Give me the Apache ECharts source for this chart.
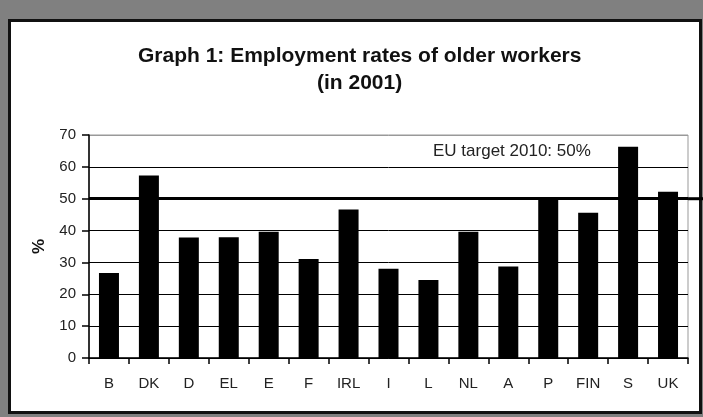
<!DOCTYPE html>
<html>
<head>
<meta charset="utf-8">
<script src="https://cdn.jsdelivr.net/npm/echarts@6/dist/echarts.min.js"></script>
<style>
  html, body { margin: 0; padding: 0; background: #808080; }
  #chart { width: 703px; height: 417px; }
</style>
</head>
<body>
<div id="chart"></div>
<script>
// data
var countries = ['B', 'DK', 'D', 'EL', 'E', 'F', 'IRL', 'I', 'L', 'NL', 'A', 'P', 'FIN', 'S', 'UK']
var rates = [26.7, 57.3, 37.8, 37.9, 39.6, 31.1, 46.6, 28.0, 24.5, 39.6, 28.7, 50.3, 45.6, 66.3, 52.2]
var yTicks = [0, 10, 20, 30, 40, 50, 60, 70]
var target = 50

var chart = echarts.init(document.getElementById('chart'))
var font = '"Liberation Sans", Arial, sans-serif'

var option = {
  backgroundColor: '#808080',
  animation: false,
  textStyle: { fontFamily: font },
  title: [
    {
      text: 'Graph 1: Employment rates of older workers',
      left: 133, top: 41,
      textStyle: { fontFamily: font, fontWeight: 'bold', fontSize: 21, color: '#111' }
    },
    {
      text: '(in 2001)',
      left: 312, top: 68,
      textStyle: { fontFamily: font, fontWeight: 'bold', fontSize: 21, color: '#111' }
    }
  ],
  grid: {
    left: 89, right: 15, top: 135, bottom: 59,
    show: true, borderColor: '#999', borderWidth: 1, backgroundColor: 'transparent'
  },
  xAxis: {
    type: 'category',
    data: countries,
    axisLine: { lineStyle: { color: '#000', width: 1.5 } },
    axisTick: { show: true, length: 6, alignWithLabel: false, lineStyle: { color: '#000', width: 1.5 } },
    axisLabel: { color: '#222', fontSize: 15, margin: 18 }
  },
  yAxis: {
    type: 'value',
    min: yTicks[0], max: yTicks[yTicks.length - 1], interval: 10,
    name: '%',
    nameLocation: 'middle',
    nameGap: 41,
    nameRotate: 90,
    nameTextStyle: { fontSize: 17, fontWeight: 'bold', color: '#111' },
    axisLine: { show: true, lineStyle: { color: '#000', width: 1.5 } },
    axisTick: { show: true, length: 7, lineStyle: { color: '#000', width: 1.5 } },
    axisLabel: { color: '#222', fontSize: 15, margin: 13 },
    splitLine: {
      show: true,
      lineStyle: { color: ['#000', '#000', '#000', '#000', '#000', '#000', '#000', '#999'], width: 1 }
    }
  },
  series: [{
    type: 'bar',
    data: rates,
    barWidth: 20,
    itemStyle: { color: '#000' },
    markLine: {
      symbol: 'none',
      silent: true,
      label: { show: false },
      lineStyle: { color: '#000', width: 3, type: 'solid' },
      data: [{ yAxis: target }]
    }
  }]
}

chart.setOption(option)

// white panel, target line extension and the target caption
function drawExtras () {
  var y50 = chart.convertToPixel({ yAxisIndex: 0 }, target)
  var xEnd = chart.convertToPixel({ xAxisIndex: 0 }, countries.length - 1) + 20
  var yCap = chart.convertToPixel({ yAxisIndex: 0 }, 64.3)
  chart.setOption({
    graphic: [
      {
        type: 'rect', z: -10, silent: true,
        shape: { x: 9.5, y: 20.5, width: 691, height: 392 },
        style: { fill: '#fff', stroke: '#111', lineWidth: 3 }
      },
      {
        type: 'line', z: 10, silent: true,
        shape: { x1: xEnd, y1: y50, x2: 703, y2: y50 },
        style: { stroke: '#000', lineWidth: 3 }
      },
      {
        type: 'text', z: 10, silent: true,
        left: 433, top: yCap - 10,
        style: { text: 'EU target 2010: 50%', font: '17px "Liberation Sans", Arial, sans-serif', fill: '#222' }
      }
    ]
  })
}
drawExtras()
</script>
</body>
</html>
